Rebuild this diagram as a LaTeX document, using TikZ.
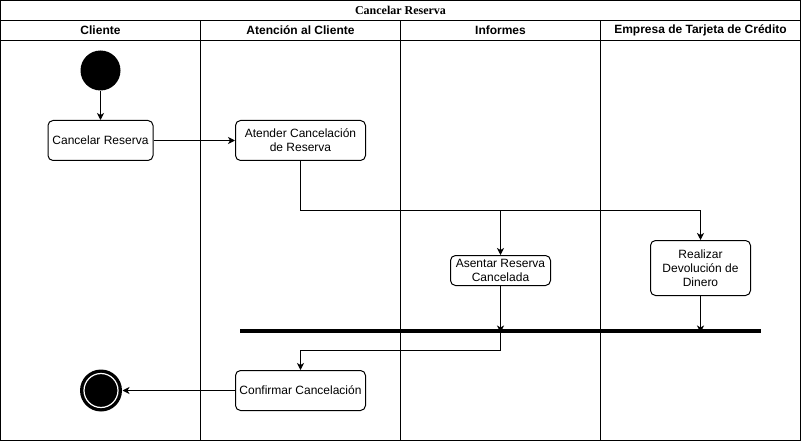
\documentclass[tikz,border=0pt]{standalone}
\usepackage{fontspec}
\setmainfont{Liberation Sans}
\newfontfamily\titlefont{Liberation Serif}
\usetikzlibrary{arrows.meta,positioning}

\begin{document}
\begin{tikzpicture}[x=1pt,y=-1pt,font=\fontsize{12}{14}\selectfont,line width=1pt]
\tikzstyle{action} = [draw,rounded corners=5pt,align=center,inner sep=0pt]
\tikzstyle{lane} = [font=\fontsize{12}{14}\selectfont\bfseries]
\tikzstyle{flow} = [->,>={Stealth[length=7pt,width=7pt,inset=2pt]}]
    \useasboundingbox (0,0) rectangle (801,441);
    % swimlanes
    \draw (0.5,0.5) rectangle (800.5,440.5);
    \draw (0.5,20.5) -- (800.5,20.5);
    \draw (0.5,40.5) -- (800.5,40.5);
    \foreach \x in {200,400,600} \draw (\x.5,20.5) -- (\x.5,440.5);
    \node[font=\fontsize{12}{14}\selectfont\titlefont\bfseries] (Title) at (400.5,10.5) {Cancelar Reserva};
    \node[lane] (LaneCliente) at (100.5,30.5) {Cliente};
    \node[lane] (LaneAtencion) at (300.5,30.5) {Atención al Cliente};
    \node[lane] (LaneInformes) at (500.5,30.5) {Informes};
    \node[lane] (LaneEmpresa) at (700.5,30.5) {Empresa de Tarjeta de Crédito};

    % actions
    \node[circle,fill=black,minimum size=40pt,inner sep=0pt] (Start) at (100.5,70.5) {};
    \node[action,minimum width=105pt,minimum height=40pt] (Cancelar) at (100.5,140.5) {Cancelar Reserva};
    \node[action,minimum width=130pt,minimum height=40pt] (Atender) at (300.5,140.5) {Atender Cancelación\\de Reserva};
    \coordinate (Split) at (300.5,210.5);
    \coordinate (SplitB) at (500.5,210.5);
    \coordinate (SplitC) at (700.5,210.5);
    \node[action,minimum width=100pt,minimum height=30pt] (Asentar) at (500.5,270.5) {Asentar Reserva\\Cancelada};
    \node[action,minimum width=100pt,minimum height=55pt] (Realizar) at (700.5,268) {Realizar\\Devolución de\\Dinero};
    \coordinate (BarLeft) at (240,330.5);
    \coordinate (BarRight) at (761,330.5);
    \coordinate (JoinA) at (500.5,330.5);
    \coordinate (JoinB) at (700.5,330.5);
    \coordinate (Merge) at (500.5,350.5);
    \coordinate (MergeB) at (300.5,350.5);
    \node[action,minimum width=130pt,minimum height=40pt] (Confirmar) at (300.5,390.5) {Confirmar Cancelación};
    \node[circle,fill=black,minimum size=42pt,inner sep=0pt] (End) at (101,390.5) {};
    \draw[white,line width=1.2pt] (End.center) circle (17pt);

    \draw[line width=4pt] (BarLeft) -- (BarRight);
    \draw[flow] (Start) -- (Cancelar);
    \draw[flow] (Cancelar) -- (Atender);
    \draw (Atender) -- (Split) -- (SplitC);
    \draw[flow] (SplitB) -- (Asentar);
    \draw[flow] (SplitC) -- (Realizar);
    \draw[flow] (Asentar) -- ([yshift=-2pt]JoinA);
    \draw[flow] (Realizar) -- ([yshift=-2pt]JoinB);
    \draw[flow] (JoinA) -- (Merge) -- (MergeB) -- (Confirmar);
    \draw[flow] (Confirmar) -- (End);
\end{tikzpicture}
\end{document}
